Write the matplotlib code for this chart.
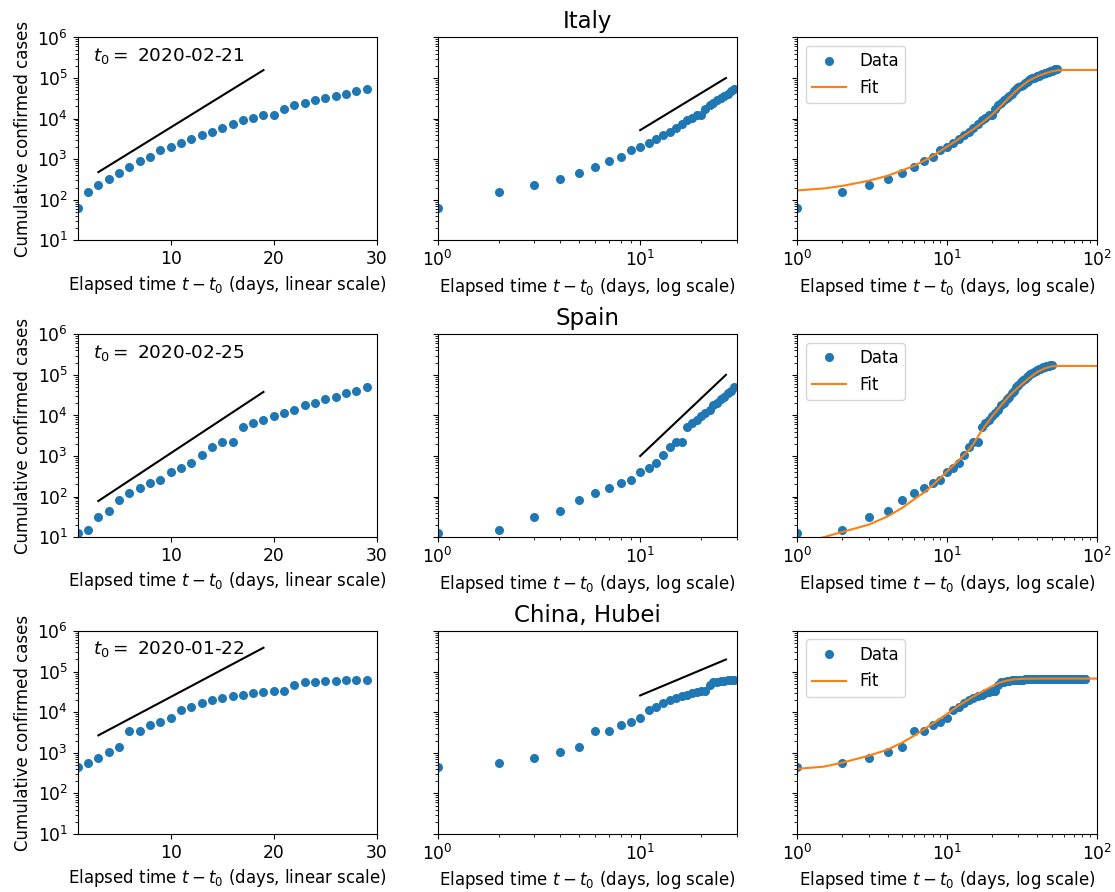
import matplotlib
matplotlib.use("Agg")
import matplotlib.pyplot as plt

# ---------------- data ----------------
region_names = ["Italy", "Spain", "China, Hubei"]
start_dates = ["2020-02-21", "2020-02-25", "2020-01-22"]

# cumulative confirmed cases, day 1 = t0 + 1 day
italy_cases = [62, 155, 229, 322, 453, 655, 888, 1128, 1694, 2036,
               2502, 3089, 3858, 4636, 5883, 7375, 9172, 10149, 12462, 12462,
               17660, 21157, 24747, 27980, 31506, 35713, 41035, 47021, 53578, 59138,
               63927, 69176, 74386, 80589, 86498, 92472, 97689, 101739, 105792, 110574,
               115242, 119827, 124632, 128948, 132547, 135586, 139422, 143626, 147577, 152271,
               156363, 159516, 162488, 165155]
spain_cases = [13, 15, 32, 45, 84, 120, 165, 222, 259, 400,
               500, 673, 1073, 1695, 2277, 2277, 5232, 6391, 7798, 9942,
               11748, 13910, 17963, 20410, 25374, 28768, 35136, 39885, 49515, 57786,
               65719, 73235, 80110, 87956, 95923, 104118, 112065, 119199, 126168, 131646,
               136675, 141942, 148220, 153222, 158273, 163027, 166831, 170099, 172541, 177644]
hubei_cases = [444, 549, 761, 1058, 1423, 3554, 3554, 4903, 5806, 7153,
               11177, 13522, 16678, 19665, 22112, 24953, 27100, 29631, 31728, 33366,
               33366, 48206, 54406, 56249, 58182, 59989, 61682, 62031, 62442, 62662,
               64084, 64084, 64287, 64786, 65187, 65596, 65914, 66337, 66907, 67103,
               67217, 67332, 67466, 67592, 67666, 67707, 67743, 67760, 67773, 67781,
               67786, 67790, 67794, 67798, 67799, 67800, 67800, 67800, 67800, 67800,
               67800, 67801, 67801, 67801, 67801, 67801, 67801, 67801, 67801, 67802,
               67802, 67802, 67802, 67802, 67802, 67802, 67802, 67803, 67803, 67803,
               67803, 67803, 67803, 67803]

# number of days shown in the early-growth panels
early_days = 29

# fitted curves
italy_fit_days = [1, 1.5, 2, 3, 4, 5, 6, 7, 8, 10, 12, 15, 18, 20, 23, 26, 30, 35, 40, 45, 50, 55, 60, 70, 100]
italy_fit = [170, 190, 220, 295, 390, 525, 690, 910, 1200, 2040, 3160, 5500, 9100, 12600, 20900,
             33100, 55000, 85100, 110000, 129000, 145000, 155000, 158000, 158000, 158000]
spain_fit_days = [1, 1.5, 2, 3, 4, 5, 6, 7, 8, 10, 12, 14, 15, 17, 20, 23, 26, 30, 35, 40, 45, 50, 55, 60, 100]
spain_fit = [6.8, 10, 13.5, 20.4, 32.4, 52.5, 85, 126, 190, 417, 794, 1410, 2000, 4170, 9550,
             17800, 30200, 50100, 81300, 117500, 144500, 162000, 166000, 166000, 166000]
hubei_fit_days = [1, 1.5, 2, 3, 4, 5, 6, 7, 8, 10, 12, 15, 18, 20, 22, 25, 28, 32, 40, 60, 100]
hubei_fit = [405, 457, 575, 850, 1200, 1780, 2630, 3800, 5250, 9100, 14800, 24500, 35500, 43700,
             52500, 60300, 64600, 66800, 67600, 67700, 67700]

# guide lines: exponential (linear time axis) and power law (log time axis)
exp_guide_days = [3, 19]
italy_exp_guide = [480, 157000]
spain_exp_guide = [78, 38000]
hubei_exp_guide = [2700, 390000]
pow_guide_days = [10, 26.5]
italy_pow_guide = [5200, 100000]
spain_pow_guide = [1000, 100000]
hubei_pow_guide = [26000, 200000]

cases = [italy_cases, spain_cases, hubei_cases]
fits = [(italy_fit_days, italy_fit), (spain_fit_days, spain_fit), (hubei_fit_days, hubei_fit)]
exp_guides = [italy_exp_guide, spain_exp_guide, hubei_exp_guide]
pow_guides = [italy_pow_guide, spain_pow_guide, hubei_pow_guide]

# ---------------- figure ----------------
plt.rcParams["font.size"] = 12.0
TICK = 12.3
MS = 5.5

fig, axes = plt.subplots(3, 3, figsize=(11.15, 8.92), dpi=100, sharey=True)
fig.subplots_adjust(left=0.0697, right=0.9836, bottom=0.065, top=0.958,
                    wspace=0.2025, hspace=0.463)

blue = "#1f77b4"
orange = "#ff7f0e"

for row in range(3):
    y = cases[row]
    days = list(range(1, len(y) + 1))
    d_early, y_early = days[:early_days], y[:early_days]
    ax_lin, ax_log, ax_fit = axes[row]

    # linear time axis
    ax_lin.plot(d_early, y_early, "o", color=blue, ms=MS)
    ax_lin.plot(exp_guide_days, exp_guides[row], "-", color="black", lw=1.5)
    ax_lin.set_yscale("log")
    ax_lin.set_ylim(10, 1e6)
    ax_lin.set_xlim(1, 30)
    ax_lin.set_xticks([10, 20, 30])
    ax_lin.set_ylabel("Cumulative confirmed cases")
    ax_lin.set_xlabel(r"Elapsed time $t - t_0$ (days, linear scale)")
    ax_lin.text(0.05, 0.91, r"$t_0 =$ " + start_dates[row], transform=ax_lin.transAxes,
                ha="left", va="center", fontsize=13.2)

    # log time axis
    ax_log.plot(d_early, y_early, "o", color=blue, ms=MS)
    ax_log.plot(pow_guide_days, pow_guides[row], "-", color="black", lw=1.5)
    ax_log.set_xscale("log")
    ax_log.set_xlim(1, 30)
    ax_log.set_xlabel(r"Elapsed time $t - t_0$ (days, log scale)")
    ax_log.set_title(region_names[row], fontsize=16.5, pad=6.5)

    # data with fitted curve
    fd, fv = fits[row]
    ax_fit.plot(days, y, "o", color=blue, ms=MS, label="Data")
    ax_fit.plot(fd, fv, "-", color=orange, lw=1.5, label="Fit")
    ax_fit.set_xscale("log")
    ax_fit.set_xlim(1, 100)
    ax_fit.set_xlabel(r"Elapsed time $t - t_0$ (days, log scale)")
    ax_fit.legend(loc="upper left")

    for ax in axes[row]:
        ax.tick_params(axis="both", which="major", labelsize=TICK)

fig.savefig("out.png", dpi=100)
